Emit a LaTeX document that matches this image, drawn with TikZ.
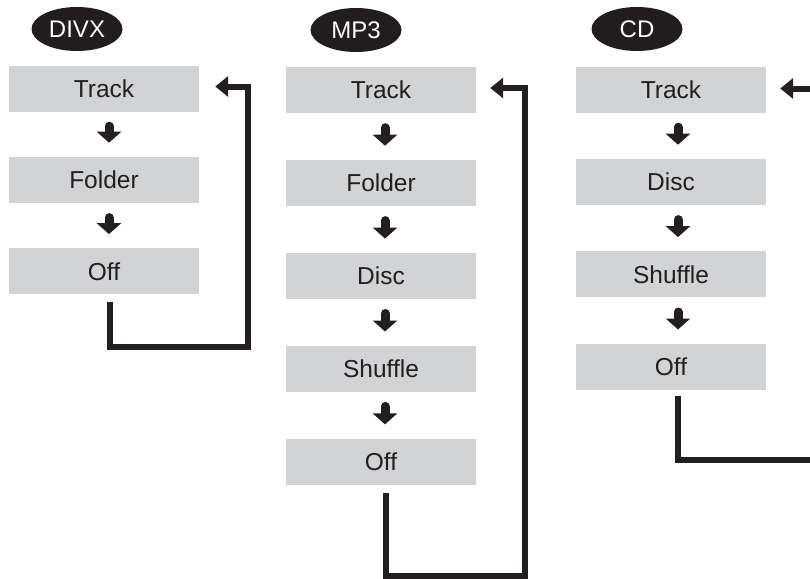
\documentclass[tikz,border=0pt]{standalone}
\usepackage{fontspec}
\setmainfont{Liberation Sans}
\usetikzlibrary{positioning,arrows.meta,shapes.geometric}
\definecolor{boxgray}{HTML}{D1D3D4}
\definecolor{ink}{HTML}{231F20}
\begin{document}
\begin{tikzpicture}[x=1pt,y=1pt,
    item/.style={fill=boxgray,minimum width=190pt,minimum height=46pt,
      inner sep=0pt,text=ink,font=\fontsize{24.5}{28}\selectfont},
    mode/.style={ellipse,fill=ink!95!black,text=white,minimum width=91pt,
      minimum height=44pt,inner sep=0pt,font=\fontsize{24}{28}\selectfont},
    nxt/.style={ink,line width=9pt,line cap=round,shorten <=14.5pt,shorten >=14pt,
      -{Triangle[length=11pt,width=24pt]}},
    back/.style={ink,line width=6pt,line join=miter,
      -{Triangle[length=13pt,width=20pt]}}]
  \useasboundingbox (0,0) rectangle (810,-578);
  \clip (0,0) rectangle (810,-578);
  % DIVX
  \node[mode] (divx) at (77,-29) {DIVX};
  \node[item] (tracka) at (104,-88.5) {Track};
  \node[item,below=45pt of tracka] (foldera) {Folder};
  \node[item,below=45pt of foldera] (offa) {Off};
  \draw[nxt] ([xshift=5pt]tracka.south) -- ([xshift=5pt]foldera.north);
  \draw[nxt] ([xshift=5pt]foldera.south) -- ([xshift=5pt]offa.north);
  \draw[back] ([xshift=6pt,yshift=-7pt]offa.south) -- ++(0,-45.5)
    -| ([xshift=49pt,yshift=2pt]tracka.east) -- ([xshift=16pt,yshift=2pt]tracka.east);
  % MP3
  \node[mode] (mp3) at (356,-30) {MP3};
  \node[item] (trackb) at (381,-90) {Track};
  \node[item,below=46.5pt of trackb] (folderb) {Folder};
  \node[item,below=46.5pt of folderb] (discb) {Disc};
  \node[item,below=46.5pt of discb] (shuffleb) {Shuffle};
  \node[item,below=46.5pt of shuffleb] (offb) {Off};
  \foreach \u/\v in {trackb/folderb,folderb/discb,discb/shuffleb,shuffleb/offb}
    \draw[nxt] ([xshift=4pt]\u.south) -- ([xshift=4pt]\v.north);
  \draw[back] ([xshift=5pt,yshift=-8pt]offb.south) -- ++(0,-83)
    -| ([xshift=49pt,yshift=2pt]trackb.east) -- ([xshift=14pt,yshift=2pt]trackb.east);
  % CD
  \node[mode] (cd) at (637,-29) {CD};
  \node[item] (trackc) at (671,-89.5) {Track};
  \node[item,below=46pt of trackc] (discc) {Disc};
  \node[item,below=46pt of discc] (shufflec) {Shuffle};
  \node[item,below=46pt of shufflec] (offc) {Off};
  \foreach \u/\v in {trackc/discc,discc/shufflec,shufflec/offc}
    \draw[nxt] ([xshift=7pt]\u.south) -- ([xshift=7pt]\v.north);
  \draw[back] ([xshift=7pt,yshift=-6pt]offc.south) -- ++(0,-64)
    -| ([xshift=60pt,yshift=1pt]trackc.east) -- ([xshift=14pt,yshift=1pt]trackc.east);
\end{tikzpicture}
\end{document}
